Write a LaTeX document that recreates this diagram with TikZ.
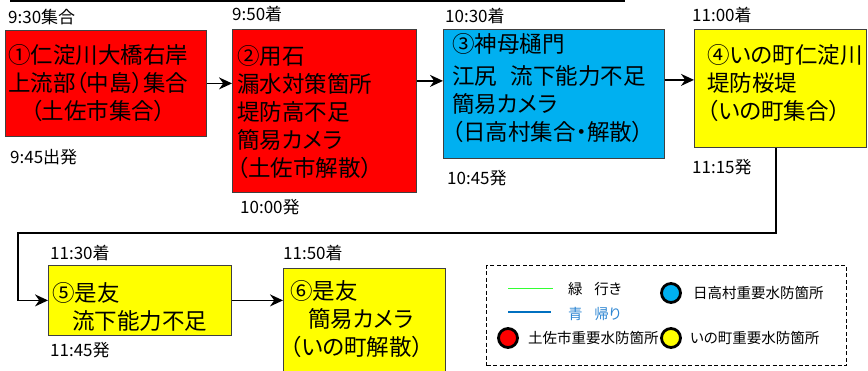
\documentclass[tikz,border=0pt]{standalone}
\usepackage{fontspec}
\setmainfont{Noto Sans CJK JP}[RawFeature=+palt]
\usetikzlibrary{positioning, arrows.meta}

\definecolor{stopred}{RGB}{255,0,0}
\definecolor{stopblue}{RGB}{0,176,240}
\definecolor{stopyellow}{RGB}{255,255,0}
\definecolor{goline}{RGB}{51,255,51}
\definecolor{backline}{RGB}{0,112,192}
\definecolor{backtext}{RGB}{46,134,210}

\begin{document}
\begin{tikzpicture}[
        x=1pt, y=-1pt,
        stopbox/.style={draw=black!75, line width=0.8pt, anchor=north west, inner sep=0pt},
        stoptext/.style={anchor=north west, align=left, inner sep=0pt, font=\fontsize{22.5}{28}\selectfont},
        timelabel/.style={anchor=west, inner sep=0pt, font=\fontsize{17}{19}\selectfont},
        keytext/.style={anchor=west, inner sep=0pt, font=\fontsize{14.5}{16}\selectfont},
        keydot/.style={circle, draw, line width=2.8pt, minimum size=19pt, inner sep=0pt},
        route/.style={line width=1.3pt, -{Stealth[length=13pt, width=12pt]}},
    ]
    \useasboundingbox (0,0) rectangle (868,371);

    \draw[line width=2pt] (10,1) -- (625,1);

    % stops
    \node[stopbox, fill=stopred, minimum width=201pt, minimum height=106pt] (s1) at (5,30) {};
    \node[stopbox, fill=stopred, minimum width=184pt, minimum height=163pt] (s2) at (232,29) {};
    \node[stopbox, fill=stopblue, minimum width=221pt, minimum height=129pt] (s3) at (443,29) {};
    \node[stopbox, fill=stopyellow, minimum width=172pt, minimum height=118pt] (s4) at (694,29) {};
    \node[stopbox, fill=stopyellow, minimum width=183pt, minimum height=70pt] (s5) at (48,265) {};
    \node[stopbox, fill=stopyellow, minimum width=162pt, minimum height=106pt] (s6) at (283,268) {};

    \node[stoptext] (s1text) at (8,44) {①仁淀川大橋右岸\\上流部（中島）集合\\\hspace*{1em}（土佐市集合）};
    \node[stoptext] (s2text) at (237,45) {②用石\\漏水対策箇所\\堤防高不足\\簡易カメラ\\（土佐市解散）};
    \node[stoptext] (s3text) at (452,33) {③神母樋門\\[4pt]江尻\hspace{0.6em}流下能力不足\\簡易カメラ\\（日高村集合・解散）};
    \node[stoptext] (s4text) at (707,44.5) {④いの町仁淀川\\堤防桜堤\\（いの町集合）};
    \node[stoptext] (s5text) at (52,282) {⑤是友\\\hspace*{0.9em}流下能力不足};
    \node[stoptext] (s6text) at (290,280) {⑥是友\\\hspace*{0.8em}簡易カメラ\\（いの町解散）};

    % times
    \node[timelabel] (t1in) at (8,17) {9:30集合};
    \node[timelabel] (t1out) at (10,157) {9:45出発};
    \node[timelabel] (t2in) at (232,14) {9:50着};
    \node[timelabel] (t2out) at (240,207) {10:00発};
    \node[timelabel] (t3in) at (445,16) {10:30着};
    \node[timelabel] (t3out) at (447,178) {10:45発};
    \node[timelabel] (t4in) at (692,15) {11:00着};
    \node[timelabel] (t4out) at (692,167) {11:15発};
    \node[timelabel] (t5in) at (50,253) {11:30着};
    \node[timelabel] (t5out) at (50,350) {11:45発};
    \node[timelabel] (t6in) at (283,253) {11:50着};

    % route
    \draw[route] (s1.east) -- (s1.east -| s2.west);
    \draw[route] ([yshift=30pt]s2.east) -- ([yshift=30pt]s2.east -| s3.west);
    \draw[route] ([yshift=14pt]s3.east) -- ([yshift=14pt]s3.east -| s4.west);
    \coordinate (bendR) at (776,233);
    \coordinate (bendL) at (18,233);
    \draw[route] (s4.south -| bendR) -- (bendR) -- (bendL) |- (s5.west);
    \draw[route] (s5.east) -- (s5.east -| s6.west);

    % legend
    \node[draw, dash pattern=on 4pt off 2.5pt, line width=1.4pt, minimum width=360pt, minimum height=100pt,
        anchor=north west, inner sep=0pt] (legend) at (486,265) {};
    \draw[goline, line width=1pt] (508,289) -- (553,289);
    \draw[backline, line width=1.2pt] (508,312) -- (551,312);
    \node[keytext] (kgo) at (568,289) {緑\hspace{0.8em}行き};
    \node[keytext, text=backtext] (kback) at (568,314) {青\hspace{0.8em}帰り};
    \node[keydot, fill=stopred] (kred) at (508,338) {};
    \node[keytext] (kredtext) at (528,338) {土佐市重要水防箇所};
    \node[keydot, fill=stopblue] (kblue) at (671,293) {};
    \node[keytext] (kbluetext) at (693,293) {日高村重要水防箇所};
    \node[keydot, fill=stopyellow] (kyellow) at (671,338) {};
    \node[keytext] (kyellowtext) at (690,338) {いの町重要水防箇所};
\end{tikzpicture}
\end{document}
